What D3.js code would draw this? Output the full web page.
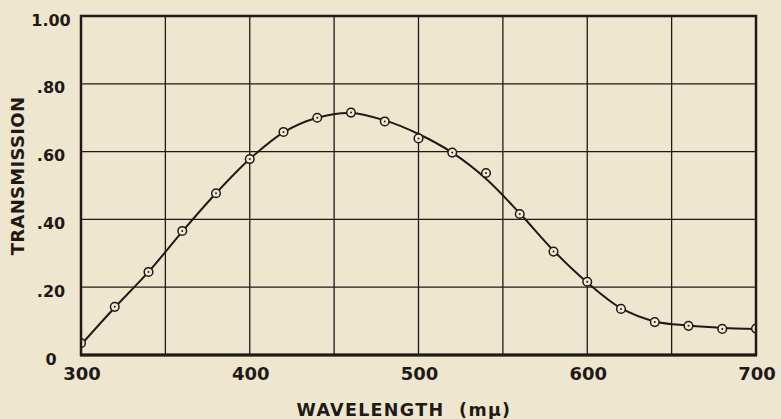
<!DOCTYPE html>
<html><head><meta charset="utf-8">
<script src="https://cdn.jsdelivr.net/npm/d3@7"></script>
<style>
html,body{margin:0;padding:0;background:#efe6cf;}
svg{display:block;}
text{font-family:"DejaVu Sans",sans-serif;font-weight:bold;fill:#1e1a17;}
</style></head>
<body><svg id="c" width="781" height="419"></svg>
<script>
// measured points (circles)
const wavelengths = [300,320,340,360,380,400,420,440,460,480,500,520,540,560,580,600,620,640,660,680,700];
const transmission = [0.035,0.142,0.245,0.366,0.477,0.578,0.658,0.700,0.715,0.689,0.639,0.597,0.537,0.416,0.305,0.216,0.136,0.097,0.086,0.077,0.078];
// smooth fitted curve
const curveWavelengths = [300,320,340,360,380,400,420,440,460,480,500,520,540,560,580,600,620,640,660,680,700];
const curveValues = [0.03,0.14,0.245,0.364,0.477,0.578,0.657,0.700,0.714,0.692,0.652,0.597,0.520,0.418,0.308,0.214,0.138,0.099,0.087,0.080,0.077];
const xTicks = [300,400,500,600,700];
const xGrid = [300,350,400,450,500,550,600,650,700];
const yTicks = [0,0.2,0.4,0.6,0.8,1.0];
const yTickLabels = ["0",".20",".40",".60",".80","1.00"];

const ink = "#1e1a17";
const svg = d3.select("#c");
const L=81, R=756, T=16, B=355;
const x = d3.scaleLinear().domain([300,700]).range([L,R]);
const y = d3.scaleLinear().domain([0,1]).range([B,T]);

svg.append("defs").append("clipPath").attr("id","clip")
  .append("rect").attr("x",L).attr("y",T).attr("width",R-L).attr("height",B-T);

// grid
svg.append("g").selectAll("line").data(xGrid.slice(1,-1)).join("line")
  .attr("x1",d=>x(d)).attr("x2",d=>x(d)).attr("y1",T).attr("y2",B)
  .attr("stroke",ink).attr("stroke-width",1.3);
svg.append("g").selectAll("line").data(yTicks.slice(1,-1)).join("line")
  .attr("x1",L).attr("x2",R).attr("y1",d=>y(d)).attr("y2",d=>y(d))
  .attr("stroke",ink).attr("stroke-width",1.3);

// curve
const line = d3.line().x((d,i)=>x(curveWavelengths[i])).y(d=>y(d)).curve(d3.curveCatmullRom.alpha(0.5));
svg.append("path").datum(curveValues).attr("d",line)
  .attr("fill","none").attr("stroke",ink).attr("stroke-width",2).attr("clip-path","url(#clip)");

// points
const pg = svg.append("g").attr("clip-path","url(#clip)");
pg.selectAll("circle.p").data(transmission).join("circle").attr("class","p")
  .attr("cx",(d,i)=>x(wavelengths[i])).attr("cy",d=>y(d)).attr("r",4.3)
  .attr("fill","#f3ead4").attr("stroke",ink).attr("stroke-width",1.5);
pg.selectAll("circle.c").data(transmission).join("circle").attr("class","c")
  .attr("cx",(d,i)=>x(wavelengths[i])).attr("cy",d=>y(d)).attr("r",1)
  .attr("fill",ink);

// frame
svg.append("rect").attr("x",L).attr("y",T).attr("width",R-L).attr("height",B-T)
  .attr("fill","none").attr("stroke",ink).attr("stroke-width",2.5);
svg.append("line").attr("x1",L-1).attr("x2",R+1).attr("y1",B).attr("y2",B)
  .attr("stroke",ink).attr("stroke-width",3.2);

// x tick labels
svg.append("g").selectAll("text").data(xTicks).join("text")
  .attr("x",d=>x(d)+1).attr("y",380).attr("text-anchor","middle")
  .attr("font-size",18).text(d=>d);

// y tick labels
svg.append("g").selectAll("text").data(yTicks).join("text")
  .attr("x",51).attr("y",d=>y(d)+9.5).attr("text-anchor","middle")
  .attr("font-size",16).text((d,i)=>yTickLabels[i]);

// axis titles
svg.append("text").attr("transform","translate(24,176) rotate(-90)")
  .attr("text-anchor","middle").attr("font-size",18).attr("letter-spacing",0.3)
  .text("TRANSMISSION");
svg.append("text").attr("x",404).attr("y",416).attr("text-anchor","middle")
  .attr("font-size",17.5).attr("letter-spacing",1.3).attr("xml:space","preserve")
  .text("WAVELENGTH  (mμ)");
</script></body></html>
